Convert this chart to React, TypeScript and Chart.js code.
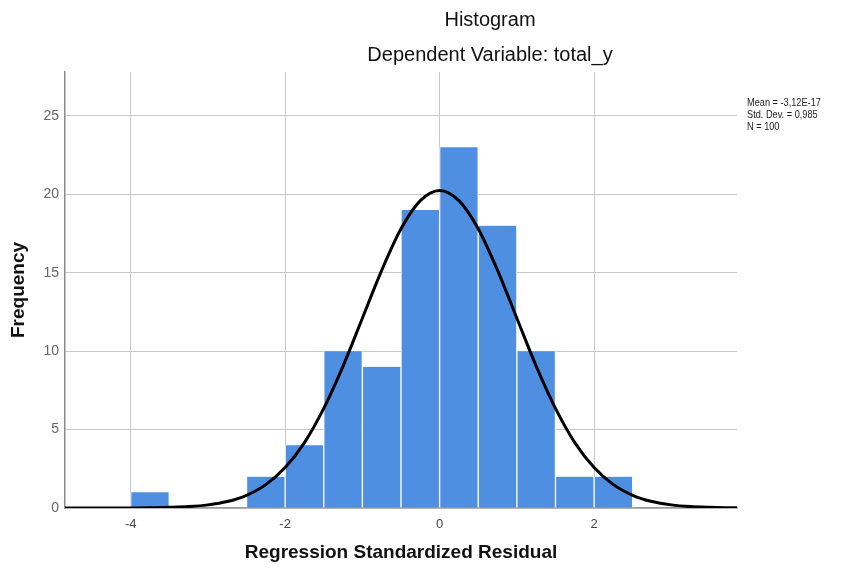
import React, { useEffect, useRef } from "react";
import { Chart, registerables } from "chart.js";

Chart.register(...registerables);

// ---- data ----
const binStarts = [-4, -2.5, -2, -1.5, -1, -0.5, 0, 0.5, 1, 1.5, 2];
const binWidth = 0.5;
const counts = [1, 2, 4, 10, 9, 19, 23, 18, 10, 2, 2];

const curveX = [
  -4.85, -4.5, -4.25, -4, -3.75, -3.5, -3.25, -3, -2.75, -2.5, -2.25, -2, -1.75, -1.5, -1.25, -1,
  -0.75, -0.5, -0.25, 0, 0.25, 0.5, 0.75, 1, 1.25, 1.5, 1.75, 2, 2.25, 2.5, 2.75, 3, 3.25, 3.5,
  3.75, 3.85,
];
const curveY = [
  0, 0.001, 0.002, 0.005, 0.01, 0.04, 0.09, 0.2, 0.41, 0.81, 1.49, 2.58, 4.17, 6.35, 9.05, 12.1,
  15.15, 17.8, 19.6, 20.25, 19.6, 17.8, 15.15, 12.1, 9.05, 6.35, 4.17, 2.58, 1.49, 0.81, 0.41, 0.2,
  0.09, 0.04, 0.01, 0.008,
];

const xTicks = [-4, -2, 0, 2];
const yTicks = [0, 5, 10, 15, 20, 25];
const xRange = [-4.85, 3.85];
const yRange = [0, 27.8];

const titleLines = ["Histogram", "Dependent Variable: total_y"];
const statsLines = ["Mean = -3,12E-17", "Std. Dev. = 0,985", "N = 100"];
const xTitle = "Regression Standardized Residual";
const yTitle = "Frequency";

const FONT = "'Liberation Sans', Arial, sans-serif";

const textPlugin = {
  id: "spssText",
  afterDraw(chart: any) {
    const { ctx, chartArea } = chart;
    ctx.save();
    ctx.fillStyle = "#111";
    ctx.textAlign = "center";
    ctx.textBaseline = "middle";
    ctx.font = `20px ${FONT}`;
    ctx.fillText(titleLines[0], 490, 20);
    ctx.fillText(titleLines[1], 490, 55);

    ctx.font = `bold 19px ${FONT}`;
    ctx.fillText(xTitle, (chartArea.left + chartArea.right) / 2, 553);

    ctx.save();
    ctx.translate(19, (chartArea.top + chartArea.bottom) / 2);
    ctx.rotate(-Math.PI / 2);
    ctx.fillText(yTitle, 0, 0);
    ctx.restore();

    ctx.save();
    ctx.textAlign = "left";
    ctx.fillStyle = "#222";
    ctx.font = `11.5px ${FONT}`;
    ctx.translate(747, 0);
    ctx.scale(0.8, 1);
    statsLines.forEach((s, i) => ctx.fillText(s, 0, 103 + i * 12));
    ctx.restore();
    ctx.restore();
  },
};

export default function App() {
  const ref = useRef<HTMLCanvasElement | null>(null);

  useEffect(() => {
    if (!ref.current) return;
    const barData = binStarts.map((s, i) => ({ x: s + binWidth / 2, y: counts[i] }));
    const lineData = curveX.map((x, i) => ({ x, y: curveY[i] }));

    const chart = new Chart(ref.current, {
      type: "bar",
      data: {
        datasets: [
          {
            type: "line",
            data: lineData,
            borderColor: "#000",
            borderWidth: 3,
            pointRadius: 0,
            fill: false,
            cubicInterpolationMode: "monotone",
            order: 0,
          } as any,
          {
            type: "bar",
            data: barData,
            backgroundColor: "#4f8fe2",
            borderColor: "#ffffff",
            borderWidth: { left: 1, right: 1, top: 0, bottom: 0 },
            borderSkipped: false,
            barPercentage: 1,
            categoryPercentage: 1,
            order: 1,
          } as any,
        ],
      },
      options: {
        responsive: false,
        animation: false,
        devicePixelRatio: 1,
        layout: { padding: { top: 72, right: 113, left: 0, bottom: 0 } },
        plugins: {
          legend: { display: false },
          tooltip: { enabled: false },
          title: { display: false },
        },
        scales: {
          x: {
            type: "linear",
            min: xRange[0],
            max: xRange[1],
            offset: false,
            afterBuildTicks: (s: any) => {
              s.ticks = xTicks.map((v) => ({ value: v }));
            },
            afterFit: (s: any) => {
              s.height = 62;
            },
            ticks: {
              color: "#444",
              font: { family: FONT, size: 13 },
              padding: 9,
              maxRotation: 0,
              autoSkip: false,
              callback: (v: any) => String(v),
            },
            grid: { color: "#c8c8c8", lineWidth: 1, drawTicks: false, offset: false },
            border: { color: "#9a9a9a", width: 1.5 },
          },
          y: {
            type: "linear",
            min: yRange[0],
            max: yRange[1],
            afterBuildTicks: (s: any) => {
              s.ticks = yTicks.map((v) => ({ value: v }));
            },
            afterFit: (s: any) => {
              s.width = 65;
            },
            ticks: {
              color: "#666",
              font: { family: FONT, size: 14 },
              padding: 6,
              callback: (v: any) => String(v),
            },
            grid: { color: "#c8c8c8", lineWidth: 1, drawTicks: false },
            border: { color: "#8a8a8a", width: 1.5 },
          },
        },
      } as any,
      plugins: [textPlugin],
    });
    return () => chart.destroy();
  }, []);

  return (
    <div style={{ position: "fixed", left: 0, top: 0, width: 850, height: 570, background: "#fff" }}>
      <canvas ref={ref} width={850} height={570} style={{ display: "block" }} />
    </div>
  );
}
